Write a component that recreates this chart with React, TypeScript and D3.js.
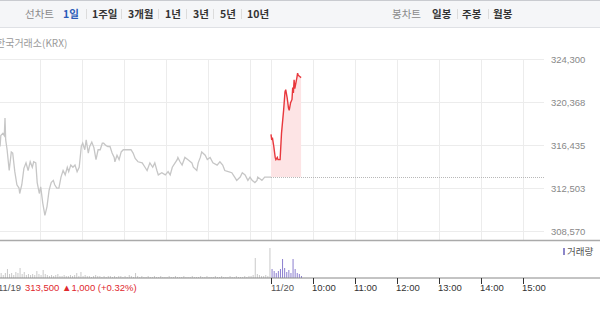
import React from "react";
import * as d3 from "d3";

// ---- data ----
const prevClose = 313500;
const yTicks = [308570, 312502.5, 316435, 320367.5, 324300];
const hourLabels = ["10:00", "11:00", "12:00", "13:00", "14:00", "15:00"];
const dayLabels = ["11/19", "11/20"];
const periodTabs = ["1일", "1주일", "3개월", "1년", "3년", "5년", "10년"];
const candleTabs = ["일봉", "주봉", "월봉"];

// [minutes since 09:00, price] for 11/19
const prevDay: [number, number][] = [
  [0, 316900], [3, 316300], [4, 317300], [7, 317500], [9, 317300], [10, 318900], [11, 316900],
  [13, 316000], [16, 314100], [19, 315800], [21, 315700], [24, 314000], [27, 312800], [30, 312500],
  [31, 312000], [34, 312800], [37, 314300], [40, 314800], [43, 314100], [46, 314900], [49, 314400],
  [51, 314900], [54, 314800], [56, 313000], [59, 312000], [61, 312600], [64, 311100], [67, 310000],
  [70, 310800], [73, 312300], [76, 313000], [79, 313200], [81, 312800], [84, 312500], [87, 312500],
  [90, 313500], [93, 314100], [96, 313700], [99, 314400], [101, 314000], [104, 314600], [107, 314400],
  [110, 314600], [113, 314000], [116, 314400], [119, 316300], [121, 316600], [124, 316000], [126, 316900],
  [129, 315700], [131, 316300], [134, 316700], [137, 316200], [140, 315100], [143, 316000], [146, 316000],
  [149, 316600], [151, 316600], [154, 316400], [157, 316300], [160, 316300], [163, 315700], [166, 315300],
  [167, 314900], [170, 315500], [173, 315100], [176, 315800], [179, 316000], [181, 316000], [186, 316000],
  [190, 316000], [193, 315700], [196, 315200], [200, 314900], [206, 314800], [210, 314400], [213, 314100],
  [217, 314800], [221, 314400], [224, 314800], [227, 314100], [229, 313700], [234, 313900], [239, 313700],
  [243, 314000], [246, 313700], [249, 314400], [253, 314800], [256, 315100], [257, 315300], [260, 314900],
  [263, 314600], [267, 315300], [271, 315100], [277, 314800], [279, 314400], [284, 314100], [286, 314800],
  [289, 315300], [291, 315800], [296, 315500], [299, 315100], [303, 315300], [307, 314800], [313, 314600],
  [317, 314900], [321, 314600], [324, 314100], [329, 314000], [334, 313900], [339, 313400], [341, 313200],
  [346, 313500], [349, 313900], [353, 313700], [357, 313200], [360, 313500], [363, 313200], [367, 313000],
  [370, 313200], [371, 313500], [377, 313200], [381, 313500], [386, 313500], [390, 313500],
];

// [minutes since 09:00, price] for 11/20
const today: [number, number][] = [
  [0, 317400], [1, 316900], [2, 317100], [4, 316300], [6, 315300], [7, 315100], [9, 315300],
  [10, 315100], [13, 315100], [15, 317500], [18, 319600], [20, 321300], [21, 321500], [23, 320800],
  [25, 319800], [26, 319600], [28, 320300], [30, 320600], [31, 321700], [32, 321200], [33, 322400],
  [34, 321600], [37, 322600], [38, 323000], [39, 322800], [41, 322700], [43, 322600],
];

// volume per 3-minute bin (shares)
const prevVolumes = [
  400, 500, 300, 500, 900, 400, 500, 300, 600, 500,
  1000, 400, 600, 300, 400, 300, 400, 300, 700, 400,
  300, 800, 400, 300, 200, 300, 200, 300, 400, 200,
  200, 300, 200, 200, 300, 200, 300, 500, 200, 600,
  200, 300, 200, 200, 100, 200, 300, 200, 200, 100,
  200, 100, 200, 200, 100, 200, 100, 200, 200, 100,
  200, 100, 300, 200, 100, 500, 200, 100, 200, 100,
  100, 200, 100, 100, 200, 100, 100, 200, 100, 100,
  100, 200, 100, 100, 200, 100, 100, 100, 200, 100,
  100, 100, 200, 100, 100, 100, 200, 100, 100, 200,
  100, 100, 100, 200, 100, 100, 200, 100, 100, 100,
  200, 100, 100, 200, 100, 100, 100, 200, 100, 200,
  200, 300, 2000, 400, 300, 200, 200, 300, 200, 3000,
];
const todayVolumes = [900, 700, 500, 700, 900, 1900, 1000, 600, 800, 500, 1900, 900, 500, 400, 200];

const W = 600;
const H = 311;
const plotRight = 544;
const SESSION = 390;
const FONT = "'Liberation Sans', Arial, 'Noto Sans CJK KR', sans-serif";
const KFONT = "'Noto Sans CJK KR', 'Liberation Sans', sans-serif";

export default function App() {
  const x = d3.scaleLinear().domain([0, SESSION * 2]).range([-2, plotRight]);
  const y = d3.scaleLinear().domain([308570, 324300]).range([231, 59]);
  const vy = d3.scaleLinear().domain([0, 3300]).range([278, 245]);

  const prevLine = d3
    .line<[number, number]>()
    .x((d) => x(d[0]))
    .y((d) => y(d[1]))(prevDay);
  const todayLine = d3
    .line<[number, number]>()
    .x((d) => x(SESSION + d[0]))
    .y((d) => y(d[1]))(today);
  const todayArea = d3
    .area<[number, number]>()
    .x((d) => x(SESSION + d[0]))
    .y0(y(prevClose))
    .y1((d) => y(d[1]))(today);

  const hourTicks = d3.range(1, 7).map((h) => h * 60);
  const vGrid = [...hourTicks, SESSION, ...hourTicks.map((t) => SESSION + t)];

  const tabX = [63, 92, 128, 165, 193, 220, 247];
  const tabSep = [86, 121, 158, 186, 213, 241];
  const cTabX = [432, 462, 493];
  const cSep = [457, 488];

  return (
    <svg
      width={W}
      height={H}
      style={{ position: "fixed", left: 0, top: 0, background: "#fff" }}
    >
      {/* top toolbar */}
      <rect x={0} y={0} width={W} height={27} fill="#f5f6f8" />
      <line x1={0} x2={W} y1={0.5} y2={0.5} stroke="#c9cbd0" />
      <line x1={0} x2={W} y1={27.5} y2={27.5} stroke="#dfe1e5" />
      <text x={25} y={18} fontSize={10.5} fill="#8a8a8a" fontFamily={KFONT}>
        선차트
      </text>
      {periodTabs.map((t, i) => (
        <text
          key={t}
          x={tabX[i]}
          y={18}
          fontSize={10.5}
          fontWeight="bold"
          fill={i === 0 ? "#2a5bb8" : "#333"}
          fontFamily={KFONT}
        >
          {t}
        </text>
      ))}
      {tabSep.map((s) => (
        <line key={s} x1={s + 0.5} x2={s + 0.5} y1={9} y2={19} stroke="#dcdcdc" />
      ))}
      <text x={392} y={18} fontSize={10.5} fill="#8a8a8a" fontFamily={KFONT}>
        봉차트
      </text>
      {candleTabs.map((t, i) => (
        <text key={t} x={cTabX[i]} y={18} fontSize={10.5} fontWeight="bold" fill="#333" fontFamily={KFONT}>
          {t}
        </text>
      ))}
      {cSep.map((s) => (
        <line key={s} x1={s + 0.5} x2={s + 0.5} y1={9} y2={19} stroke="#dcdcdc" />
      ))}

      {/* source label */}
      <text x={-4} y={47} fontSize={10} fill="#9a9a9a" fontFamily={KFONT}>
        한국거래소(KRX)
      </text>

      {/* grid */}
      {yTicks.map((v) => (
        <line key={v} x1={0} x2={plotRight} y1={Math.round(y(v)) + 0.5} y2={Math.round(y(v)) + 0.5} stroke="#ececec" />
      ))}
      {vGrid.map((t) => (
        <line key={t} x1={Math.round(x(t)) + 0.5} x2={Math.round(x(t)) + 0.5} y1={59} y2={240} stroke="#ececec" />
      ))}
      {yTicks.map((v) => (
        <text key={v} x={551} y={y(v) + 3.5} fontSize={9.5} fill="#888" fontFamily={FONT}>
          {d3.format(",.0f")(v)}
        </text>
      ))}

      {/* price lines */}
      <path d={todayArea || ""} fill="#fde4e5" />
      <line
        x1={x(SESSION)}
        x2={plotRight}
        y1={Math.round(y(prevClose)) + 0.5}
        y2={Math.round(y(prevClose)) + 0.5}
        stroke="#b8b8b8"
        strokeDasharray="1,1"
      />
      <path d={prevLine || ""} fill="none" stroke="#c6c6c6" strokeWidth={1.3} />
      <path d={todayLine || ""} fill="none" stroke="#e8383d" strokeWidth={1.4} />

      {/* panel separators */}
      <line x1={0} x2={W} y1={240.5} y2={240.5} stroke="#aaa" strokeWidth={1.3} />

      {/* volume */}
      {prevVolumes.map((v, i) => (
        <rect
          key={"p" + i}
          x={x(i * 3 + 1.5) - 0.5}
          y={vy(v)}
          width={1}
          height={vy(0) - vy(v)}
          fill="#c9c9c9"
        />
      ))}
      {todayVolumes.map((v, i) => (
        <rect
          key={"t" + i}
          x={x(SESSION + i * 3 + 1.5) - 0.5}
          y={vy(v)}
          width={1}
          height={vy(0) - vy(v)}
          fill="#8c7fcf"
        />
      ))}
      <rect x={563} y={248} width={2} height={7} fill="#8c86c9" />
      <text x={567} y={255} fontSize={9.5} fill="#555" fontFamily={KFONT}>
        거래량
      </text>
      <line x1={0} x2={W} y1={278} y2={278} stroke="#888" strokeWidth={1} />

      {/* x axis */}
      {[0, SESSION].map((t, i) => (
        <g key={t}>
          <line x1={Math.round(x(t)) + 0.5} x2={Math.round(x(t)) + 0.5} y1={278} y2={284} stroke="#333" />
          <text x={x(t)} y={291} fontSize={9.5} fill="#555" fontFamily={FONT}>
            {dayLabels[i]}
          </text>
        </g>
      ))}
      {hourTicks.map((t, i) => (
        <g key={t}>
          <line
            x1={Math.round(x(SESSION + t)) + 0.5}
            x2={Math.round(x(SESSION + t)) + 0.5}
            y1={278}
            y2={284}
            stroke="#333"
          />
          <text x={x(SESSION + t) - 1} y={291} fontSize={9.5} fill="#333" fontFamily={FONT}>
            {hourLabels[i]}
          </text>
        </g>
      ))}
      <text x={25} y={291} fontSize={9.5} fill="#e0282e" fontFamily={FONT}>
        {d3.format(",")(prevClose)} ▲{d3.format(",")(1000)} (+0.32%)
      </text>
    </svg>
  );
}
